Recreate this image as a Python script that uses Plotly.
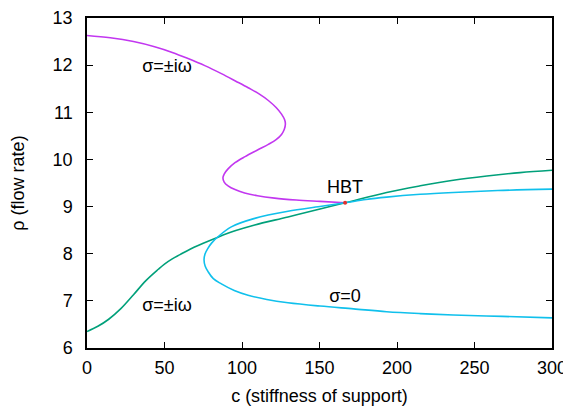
import plotly.graph_objects as go

# Magenta branch (sigma = ±i omega, upper)
mag_c = [0.0, 15.0, 30.0, 43.6, 55.0, 65.2, 76.0, 86.7, 96.0, 104.0, 111.0, 117.0, 122.0, 125.5, 127.5, 128.0, 127.3,
         125.5, 122.0, 117.0, 110.0, 102.0, 95.5, 91.0, 88.5, 87.7, 88.5, 91.0, 95.5, 101.7, 110.0, 121.0, 135.0, 150.3, 166.5]
mag_rho = [12.63, 12.58, 12.50, 12.39, 12.27, 12.14, 11.99, 11.82, 11.66, 11.52, 11.39, 11.25, 11.10, 10.96, 10.84, 10.75, 10.64,
           10.53, 10.42, 10.32, 10.20, 10.06, 9.93, 9.80, 9.69, 9.61, 9.52, 9.44, 9.36, 9.29, 9.23, 9.18, 9.14, 9.11, 9.08]

# Green branch (sigma = ±i omega, lower)
grn_c = [0.0, 7.0, 14.0, 22.0, 30.0, 38.0, 46.0, 50.0, 55.0, 60.0, 65.0, 75.0, 84.5, 96.0, 108.2, 129.7, 150.3, 166.5,
         193.3, 215.0, 236.3, 258.0, 279.4, 300.0]
grn_rho = [6.35, 6.46, 6.61, 6.84, 7.13, 7.43, 7.67, 7.78, 7.89, 7.98, 8.07, 8.22, 8.35, 8.49, 8.61, 8.78, 8.95, 9.08,
           9.30, 9.44, 9.56, 9.65, 9.72, 9.77]

# Cyan branch (sigma = 0)
cyn_c = [300.0, 265.0, 236.3, 215.0, 193.3, 180.0, 166.5, 150.3, 129.7, 108.2, 93.1, 84.5, 80.5, 78.1, 76.2, 75.5, 76.2,
         78.1, 81.5, 86.7, 95.0, 103.9, 116.0, 129.7, 150.3, 172.0, 193.3, 215.0, 236.3, 268.0, 300.0]
cyn_rho = [9.37, 9.34, 9.30, 9.26, 9.20, 9.15, 9.08, 9.00, 8.90, 8.75, 8.57, 8.36, 8.23, 8.12, 8.00, 7.87, 7.74,
           7.62, 7.47, 7.36, 7.22, 7.12, 7.03, 6.96, 6.89, 6.83, 6.77, 6.73, 6.70, 6.67, 6.64]

hbt_c = [166.5]
hbt_rho = [9.08]

labels = ["σ=±iω", "σ=±iω", "σ=0", "HBT"]
label_c = [51.6, 51.6, 166.5, 166.5]
label_rho = [11.94, 6.87, 7.08, 9.38]

x_ticks = [0, 50, 100, 150, 200, 250, 300]
y_ticks = [6, 7, 8, 9, 10, 11, 12, 13]

FONT = "Liberation Sans, Arial, Helvetica, sans-serif"

fig = go.Figure()
fig.add_trace(go.Scatter(x=mag_c, y=mag_rho, mode="lines",
                         line=dict(color="#c237f0", width=1.6, shape="spline", smoothing=1.0)))
fig.add_trace(go.Scatter(x=grn_c, y=grn_rho, mode="lines",
                         line=dict(color="#00a07a", width=1.6, shape="spline", smoothing=1.0)))
fig.add_trace(go.Scatter(x=cyn_c, y=cyn_rho, mode="lines",
                         line=dict(color="#10c0ec", width=1.6, shape="spline", smoothing=1.0)))
fig.add_trace(go.Scatter(x=hbt_c, y=hbt_rho, mode="markers",
                         marker=dict(color="#e03030", size=4)))
fig.add_trace(go.Scatter(x=label_c, y=label_rho, mode="text", text=labels,
                         textfont=dict(family=FONT, size=18, color="black"),
                         textposition="middle center"))

# The page body has an 8px default margin, so the figure is sized and
# offset to land the plot area where the reference has it.
fig.update_layout(
    width=563, height=402,
    margin=dict(l=79, r=19, t=10, b=62),
    plot_bgcolor="white", paper_bgcolor="white",
    showlegend=False,
    font=dict(family=FONT, size=18, color="black"),
)
fig.update_xaxes(range=[0, 300], tickvals=x_ticks, ticks="inside", ticklen=6, tickwidth=1.2,
                 tickcolor="black", showline=True, linecolor="black", linewidth=1.5,
                 mirror="ticks", showgrid=False, zeroline=False, automargin=False,
                 ticklabelstandoff=3,
                 title=dict(text="c (stiffness of support)", font=dict(size=18), standoff=12))
fig.update_yaxes(range=[6, 13], tickvals=y_ticks, ticks="inside", ticklen=6, tickwidth=1.2,
                 tickcolor="black", showline=True, linecolor="black", linewidth=1.5,
                 mirror="ticks", showgrid=False, zeroline=False, automargin=False,
                 ticklabelstandoff=9,
                 title=dict(text="ρ (flow rate)", font=dict(size=18), standoff=25))

fig.write_html("out.html")
